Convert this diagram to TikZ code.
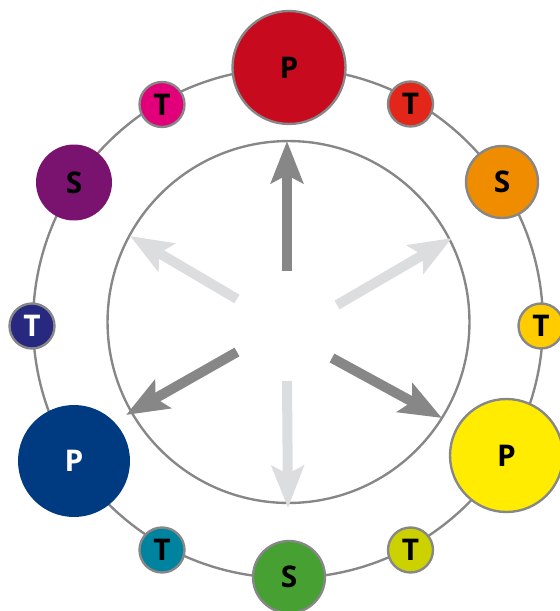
\documentclass[tikz,border=0pt]{standalone}
\usepackage{fontspec}
\setmainfont{Open Sans}
\usetikzlibrary{arrows.meta}
\definecolor{ringgray}{RGB}{135,135,135}
\definecolor{lightarrow}{RGB}{220,221,222}
\definecolor{cRedP}{RGB}{200,10,30}
\definecolor{cRedT}{RGB}{226,38,26}
\definecolor{cOrangeS}{RGB}{240,140,0}
\definecolor{cYellowT}{RGB}{255,204,0}
\definecolor{cYellowP}{RGB}{255,236,0}
\definecolor{cLimeT}{RGB}{204,210,0}
\definecolor{cGreenS}{RGB}{70,160,50}
\definecolor{cTealT}{RGB}{0,131,159}
\definecolor{cBlueP}{RGB}{0,58,128}
\definecolor{cNavyT}{RGB}{39,40,127}
\definecolor{cPurpleS}{RGB}{122,19,111}
\definecolor{cMagentaT}{RGB}{226,0,122}
\begin{document}
\begin{tikzpicture}[x=0.02cm,y=-0.02cm,
  ring/.style={draw=ringgray,line width=1.35pt},
  colnode/.style={circle,inner sep=0pt,font=\fontsize{17}{20}\selectfont\bfseries,text=black},
  bordered/.style={colnode,draw=ringgray,line width=1.35pt},
  tnode/.style={bordered,minimum size=0.9cm},
  pnode/.style={bordered,minimum size=2.26cm},
  snode/.style={bordered,minimum size=1.44cm},
  darkarrow/.style={draw=ringgray,line width=0.2cm,-{Stealth[length=0.84cm,width=0.64cm,inset=0.16cm]}},
  lightarr/.style={draw=lightarrow,line width=0.2cm,-{Stealth[length=0.84cm,width=0.64cm,inset=0.16cm]}}
]
\useasboundingbox (0,0) rectangle (559,611);
\coordinate (c) at (288,323);
\coordinate (ci) at (288.5,322);
\draw[ring] (c) circle[radius=5.1cm];

\node[pnode,fill=cRedP] (p1) at (289,67.5) {P};
\node[tnode,fill=cRedT] (t1) at (410.5,104) {T};
\node[snode,fill=cOrangeS] (s1) at (502,182) {S};
\node[tnode,fill=cYellowT] (t2) at (541,326) {T};
\node[pnode,fill=cYellowP] (p2) at (506.5,455.5) {P};
\node[tnode,fill=cLimeT] (t3) at (410.5,550) {T};
\node[snode,fill=cGreenS] (s2) at (289,577) {S};
\node[tnode,fill=cTealT] (t4) at (162,550) {T};
\node[colnode,fill=cBlueP,minimum size=2.24cm,text=white] (p3) at (74,461) {P};
\node[tnode,fill=cNavyT,text=white] (t5) at (32,326) {T};
\node[colnode,fill=cPurpleS,minimum size=1.52cm] (s3) at (74,182.5) {S};
\node[tnode,fill=cMagentaT] (t6) at (162,104.5) {T};

\draw[ring] (ci) circle[radius=3.62cm];

\coordinate (a1s) at (287,271);  \coordinate (a1e) at (287,141);
\coordinate (a2s) at (337,305);  \coordinate (a2e) at (452,238);
\coordinate (a3s) at (332,358);  \coordinate (a3e) at (442,418);
\coordinate (a4s) at (287,381);  \coordinate (a4e) at (288,508);
\coordinate (a5s) at (237,352);  \coordinate (a5e) at (126,415);
\coordinate (a6s) at (237,299);  \coordinate (a6e) at (130,236);

\draw[lightarr] (a2s) -- (a2e);
\draw[lightarr] (a4s) -- (a4e);
\draw[lightarr] (a6s) -- (a6e);
\draw[darkarrow] (a1s) -- (a1e);
\draw[darkarrow] (a3s) -- (a3e);
\draw[darkarrow] (a5s) -- (a5e);
\end{tikzpicture}
\end{document}
